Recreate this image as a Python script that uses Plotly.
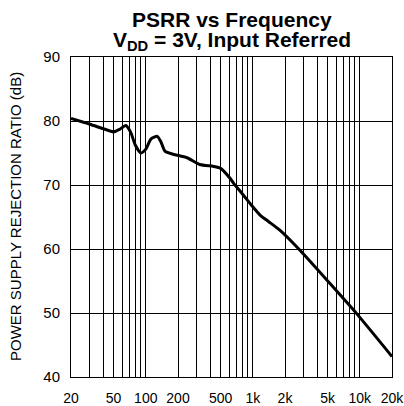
import plotly.graph_objects as go

freq = [20, 30, 40, 50, 57, 65, 72, 80, 90, 100, 112, 128, 138, 151, 180, 240, 320, 430, 500, 610, 660, 800, 1000, 1170, 1400, 1800, 2760, 5270, 9350, 20000]
psrr = [80.4, 79.5, 78.8, 78.3, 78.7, 79.3, 78.3, 76.2, 75.0, 75.6, 77.2, 77.6, 76.8, 75.3, 74.8, 74.3, 73.2, 72.9, 72.6, 71.1, 70.3, 68.6, 66.6, 65.3, 64.3, 62.9, 59.8, 54.6, 49.9, 43.2]

x_ticks = [20, 50, 100, 200, 500, 1000, 2000, 5000, 10000, 20000]
x_labels = ["20", "50", "100", "200", "500", "1k", "2k", "5k", "10k", "20k"]
y_ticks = [40, 50, 60, 70, 80, 90]

W, H = 404, 406
L, R, T, B = 71, 12, 57, 29
PW, PH = W - L - R, H - T - B

fig = go.Figure()
fig.add_trace(go.Scatter(x=freq, y=psrr, mode="lines",
                         line=dict(color="black", width=3, shape="spline", smoothing=0.6),
                         showlegend=False, hoverinfo="skip"))

font = "Liberation Sans, Arial, sans-serif"
fig.update_layout(
    width=W, height=H,
    margin=dict(l=L, r=R, t=T, b=B, autoexpand=False),
    paper_bgcolor="white", plot_bgcolor="white",
    font=dict(family=font, size=15, color="black"),
)
fig.add_annotation(text="<b>PSRR vs Frequency</b>", xref="paper", yref="paper",
                   x=0.5, y=1 + (T - 19) / PH, xanchor="center", yanchor="middle",
                   showarrow=False, font=dict(size=21, family=font, color="black"))
fig.add_annotation(text="<b>V<sub>DD</sub> = 3V, Input Referred</b>", xref="paper", yref="paper",
                   x=0.5, y=1 + (T - 41) / PH, xanchor="center", yanchor="middle",
                   showarrow=False, font=dict(size=21, family=font, color="black"))
fig.add_annotation(text="POWER SUPPLY REJECTION RATIO (dB)", xref="paper", yref="paper",
                   x=(15 - L) / PW, y=0.5, xanchor="center", yanchor="middle", textangle=-90,
                   showarrow=False, font=dict(size=15, family=font, color="black"))

fig.update_xaxes(type="log", range=[1.30103, 4.30103], tickmode="array",
                 tickvals=x_ticks, ticktext=x_labels,
                 showgrid=True, gridcolor="black", gridwidth=1,
                 minor=dict(dtick="D1", showgrid=True, gridcolor="black", gridwidth=1, ticks=""),
                 showline=True, linecolor="black", linewidth=1, mirror=True,
                 ticks="", zeroline=False, tickfont=dict(size=14), ticklabelstandoff=8,
                 ticklabeloverflow="allow", automargin=False)
fig.update_yaxes(range=[40, 90], tickmode="array", tickvals=y_ticks,
                 showgrid=True, gridcolor="black", gridwidth=1,
                 showline=True, linecolor="black", linewidth=1, mirror=True,
                 ticks="", zeroline=False, tickfont=dict(size=15), ticklabelstandoff=7,
                 ticklabeloverflow="allow", automargin=False)

fig.write_html("out.html", config={"displayModeBar": False, "staticPlot": True},
               post_script="document.body.style.margin='0px';document.body.style.overflow='hidden';")
